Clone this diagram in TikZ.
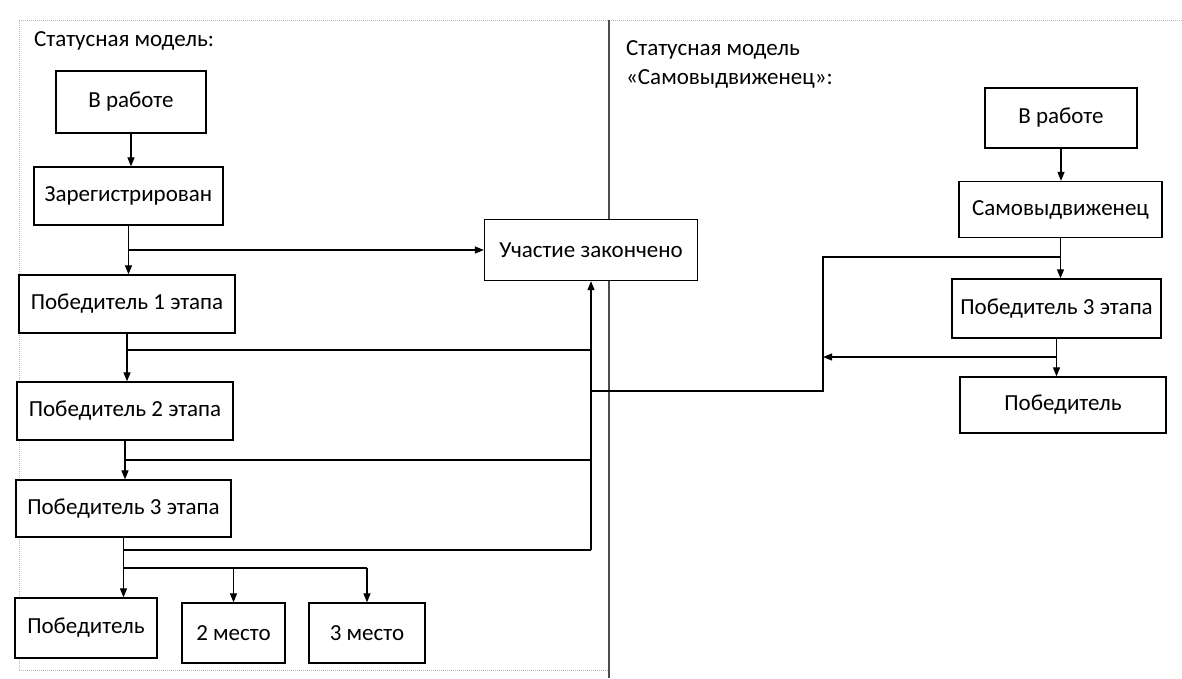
\documentclass[tikz,border=0pt]{standalone}
\usepackage{fontspec}
\setmainfont{Carlito}
\usetikzlibrary{arrows.meta}
\begin{document}
\begin{tikzpicture}[x=1pt,y=-1pt,
  box/.style={draw=black, fill=white, line width=1.3pt, inner sep=0pt, font=\fontsize{23}{27}\selectfont},
  conn/.style={line width=1.2pt, black},
  arr/.style={conn, -{Triangle[length=9pt,width=7pt]}},
  frameline/.style={gray!55, line width=1pt, densely dotted},
  divider/.style={black!70, line width=2pt},
  ttl/.style={inner sep=0pt, font=\fontsize{23}{29}\selectfont}]
\useasboundingbox (0,0) rectangle (1182,678);
\fill[white] (0,0) rectangle (1182,678);
% frame
\draw[frameline] (19,670) -- (19,20) -- (1182,20);
\draw[frameline] (19,670) -- (609,670);
\draw[divider] (609,20) -- (609,678);
% titles
\node[ttl, anchor=base west] (t1) at (34,46) {Статусная модель:};
\node[ttl, anchor=north west, align=left] (t2) at (626,40) {Статусная модель\\«Самовыдвиженец»:};
% left boxes
\node[box, minimum width=150pt, minimum height=62pt] (L1) at (131,102) {В работе};
\node[box, minimum width=189pt, minimum height=58pt] (L2) at (128.5,196) {Зарегистрирован};
\node[box, minimum width=216pt, minimum height=58pt] (L3) at (127,304) {Победитель 1 этапа};
\node[box, minimum width=216pt, minimum height=58pt] (L4) at (125,411) {Победитель 2 этапа};
\node[box, minimum width=215pt, minimum height=57pt] (L5) at (123.5,508.5) {Победитель 3 этапа};
\node[box, minimum width=142pt, minimum height=60pt] (L6) at (86,628) {Победитель};
\node[box, minimum width=103pt, minimum height=60pt] (L7) at (233.5,633) {2 место};
\node[box, minimum width=116pt, minimum height=60pt] (L8) at (367,633) {3 место};
\node[box, minimum width=213pt, minimum height=61pt] (P) at (591,250) {Участие закончено};
% right boxes
\node[box, minimum width=152pt, minimum height=60pt] (R1) at (1061,118) {В работе};
\node[box, minimum width=203pt, minimum height=56pt] (R2) at (1060.5,209.5) {Самовыдвиженец};
\node[box, minimum width=209pt, minimum height=59pt] (R3) at (1056.5,308.5) {Победитель 3 этапа};
\node[box, minimum width=206pt, minimum height=56pt] (R4) at (1063,405) {Победитель};
% junction coordinates
\coordinate (b1) at (591,350);
\coordinate (b2) at (591,460);
\coordinate (b3) at (591,550);
\coordinate (b4) at (0,568);
\coordinate (j2) at (591,391);
\coordinate (r1) at (823,257);
\coordinate (r2) at (823,391);
\coordinate (r3) at (823,357);
% left connectors
\draw[arr] (L1.south) -- (L1.south |- L2.north);
\draw[arr] (L2.south) -- (L2.south |- L3.north);
\draw[arr] (L2.south |- P.west) -- (P.west);
\draw[arr] (L3.south) -- (L3.south |- L4.north);
\draw[conn] (L3.south |- b1) -- (b1);
\draw[arr] (L4.south) -- (L4.south |- L5.north);
\draw[conn] (L4.south |- b2) -- (b2);
\draw[arr] (L5.south) -- (L5.south |- L6.north);
\draw[conn] (L5.south |- b3) -- (b3);
\draw[arr] (b3) -- (P.south);
\draw[conn] (L5.south |- b4) -- (L8.north |- b4);
\draw[arr] (L7.north |- b4) -- (L7.north);
\draw[arr] (L8.north |- b4) -- (L8.north);
% right connectors
\draw[arr] (R1.south) -- (R1.south |- R2.north);
\draw[arr] (R2.south) -- (R2.south |- R3.north);
\draw[conn] (R2.south |- r1) -- (r1) -- (r2) -- (j2);
\draw[arr] (R3.south) -- (R3.south |- R4.north);
\draw[arr] (R3.south |- r3) -- (r3);
\end{tikzpicture}
\end{document}
